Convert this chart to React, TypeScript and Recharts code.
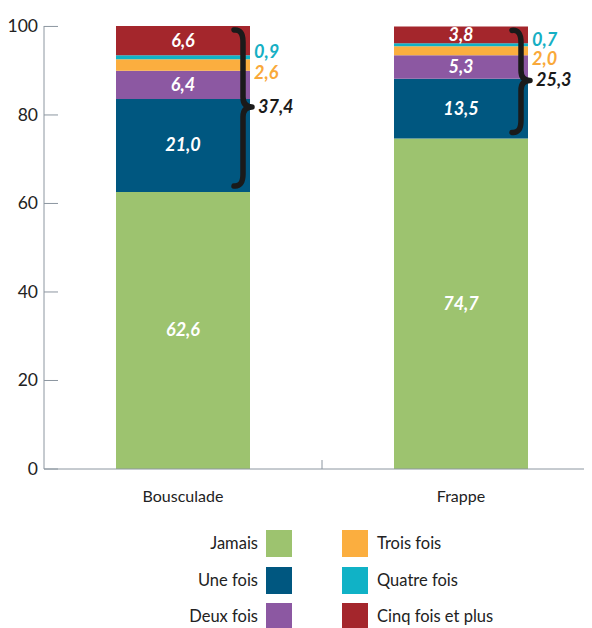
import React from 'react'
import { BarChart, Bar, XAxis, YAxis, LabelList } from 'recharts'

const categories = ['Bousculade', 'Frappe']
const jamais = [62.6, 74.7]
const uneFois = [21.0, 13.5]
const deuxFois = [6.4, 5.3]
const troisFois = [2.6, 2.0]
const quatreFois = [0.9, 0.7]
const cinqFois = [6.6, 3.8]
const totals = [37.4, 25.3]
const yTicks = [0, 20, 40, 60, 80, 100]

const COLORS = {
  jamais: '#9dc36f',
  une: '#005780',
  deux: '#8c58a2',
  trois: '#fbae3f',
  quatre: '#10b2c6',
  cinq: '#a4262c',
}
const AXIS = '#8c96a0'
const FONT = 'Lato, "Open Sans", sans-serif'

const CHART_W = 592
const CHART_H = 500
const Y_W = 36
const BAND = (CHART_W - Y_W) / categories.length

const data = categories.map((name, i) => ({
  name,
  jamais: jamais[i],
  une: uneFois[i],
  deux: deuxFois[i],
  trois: troisFois[i],
  quatre: quatreFois[i],
  cinq: cinqFois[i],
}))

const fmt = (v: number) => v.toFixed(1).replace('.', ',')

function inside(values: number[]) {
  return (p: any) => {
    const { x, y, width, height, index } = p
    return (
      <text
        x={x + width / 2}
        y={y + height / 2 + 6}
        textAnchor="middle"
        fill="#fff"
        fontFamily={FONT}
        fontSize={18}
        fontWeight={700}
        fontStyle="italic"
      >
        {fmt(values[index])}
      </text>
    )
  }
}

function outside(values: number[], color: string, dy: number) {
  return (p: any) => {
    const { x, y, width, height, index } = p
    return (
      <text
        x={x + width + 4}
        y={y + height / 2 + dy + 6}
        fill={color}
        fontFamily={FONT}
        fontSize={18}
        fontWeight={700}
        fontStyle="italic"
      >
        {fmt(values[index])}
      </text>
    )
  }
}

// brace drawn from the "une fois" segment: its bottom is the top of "jamais"
function brace(p: any) {
  const { x, y, width, height, index } = p
  const ppu = height / uneFois[index]
  const above = deuxFois[index] + troisFois[index] + quatreFois[index] + cinqFois[index]
  const y0 = y - above * ppu + 4
  const y2 = y + height - 6
  const ym = (y0 + y2) / 2 - 1
  const r = x + width
  const x0 = r - 16
  const x1 = r - 7
  const x2 = r + 2
  const d = `M ${x0} ${y0} Q ${x1} ${y0 - 1} ${x1} ${y0 + 12} L ${x1} ${ym - 10} Q ${x1} ${ym} ${x2} ${ym} Q ${x1} ${ym} ${x1} ${ym + 10} L ${x1} ${y2 - 12} Q ${x1} ${y2 + 1} ${x0} ${y2}`
  return (
    <g>
      <path d={d} stroke="#1a1a1a" strokeWidth={5.5} fill="none" strokeLinecap="round" strokeLinejoin="round" />
      <text
        x={r + 8}
        y={ym + 6}
        fill="#1a1a1a"
        fontFamily={FONT}
        fontSize={18}
        fontWeight={700}
        fontStyle="italic"
      >
        {fmt(totals[index])}
      </text>
    </g>
  )
}

function YTick(p: any) {
  const { x, y, payload } = p
  return (
    <g>
      <line x1={x} x2={x + 14} y1={y} y2={y} stroke={AXIS} strokeWidth={1} />
      <text x={x - 6} y={y + 6} textAnchor="end" fill="#222" fontFamily={FONT} fontSize={17.5}>
        {payload.value}
      </text>
    </g>
  )
}

function XTick(p: any) {
  const { x, y, payload, index } = p
  return (
    <g>
      {index < categories.length - 1 && (
        <line x1={x + BAND / 2} x2={x + BAND / 2} y1={y} y2={y - 9} stroke={AXIS} strokeWidth={1} />
      )}
      <text x={x} y={y + 33} textAnchor="middle" fill="#222" fontFamily={FONT} fontSize={16}>
        {payload.value}
      </text>
    </g>
  )
}

const leftLegend = [
  { label: 'Jamais', color: COLORS.jamais },
  { label: 'Une fois', color: COLORS.une },
  { label: 'Deux fois', color: COLORS.deux },
]
const rightLegend = [
  { label: 'Trois fois', color: COLORS.trois },
  { label: 'Quatre fois', color: COLORS.quatre },
  { label: 'Cinq fois et plus', color: COLORS.cinq },
]

export default function App() {
  const legendText: React.CSSProperties = {
    position: 'absolute',
    fontFamily: FONT,
    fontSize: 16.5,
    color: '#222',
    lineHeight: '27px',
    whiteSpace: 'nowrap',
  }
  return (
    <div style={{ position: 'relative', width: 584, height: 620, overflow: 'hidden' }}>
      <BarChart
        width={CHART_W}
        height={CHART_H}
        data={data}
        margin={{ top: 18, right: 0, left: 0, bottom: 0 }}
        barSize={134}
        style={{ overflow: 'visible' }}
      >
        <XAxis
          dataKey="name"
          height={39}
          axisLine={{ stroke: AXIS }}
          tickLine={false}
          tickSize={0}
          tickMargin={0}
          tick={<XTick />}
        />
        <YAxis
          width={Y_W}
          domain={[0, 100]}
          ticks={yTicks}
          axisLine={{ stroke: AXIS }}
          tickLine={false}
          tickSize={0}
          tickMargin={0}
          tick={<YTick />}
        />
        <Bar dataKey="jamais" stackId="a" fill={COLORS.jamais} isAnimationActive={false}>
          <LabelList content={inside(jamais)} />
        </Bar>
        <Bar dataKey="une" stackId="a" fill={COLORS.une} isAnimationActive={false}>
          <LabelList content={inside(uneFois)} />
          <LabelList content={brace} />
        </Bar>
        <Bar dataKey="deux" stackId="a" fill={COLORS.deux} isAnimationActive={false}>
          <LabelList content={inside(deuxFois)} />
        </Bar>
        <Bar dataKey="trois" stackId="a" fill={COLORS.trois} isAnimationActive={false}>
          <LabelList content={outside(troisFois, '#f9a93a', 8)} />
        </Bar>
        <Bar dataKey="quatre" stackId="a" fill={COLORS.quatre} isAnimationActive={false}>
          <LabelList content={outside(quatreFois, '#16afc4', -5)} />
        </Bar>
        <Bar dataKey="cinq" stackId="a" fill={COLORS.cinq} isAnimationActive={false}>
          <LabelList content={inside(cinqFois)} />
        </Bar>
      </BarChart>
      {leftLegend.map((e, i) => (
        <React.Fragment key={e.label}>
          <div style={{ ...legendText, right: 584 - 250, top: 522 + i * 36.5 }}>{e.label}</div>
          <div style={{ position: 'absolute', left: 258, top: 522 + i * 36.5, width: 26, height: 27, background: e.color }} />
        </React.Fragment>
      ))}
      {rightLegend.map((e, i) => (
        <React.Fragment key={e.label}>
          <div style={{ position: 'absolute', left: 334, top: 522 + i * 36.5, width: 26, height: 27, background: e.color }} />
          <div style={{ ...legendText, left: 369, top: 522 + i * 36.5 }}>{e.label}</div>
        </React.Fragment>
      ))}
    </div>
  )
}
